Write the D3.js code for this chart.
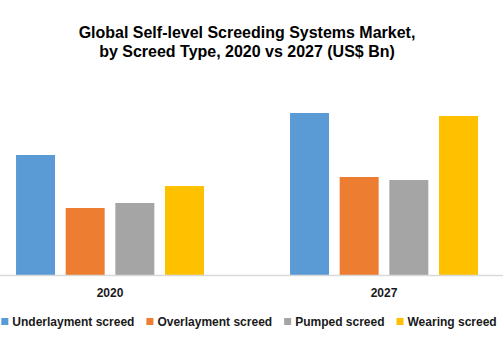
<!DOCTYPE html>
<html>
<head>
<meta charset="utf-8">
<script src="https://cdn.jsdelivr.net/npm/d3@7"></script>
<style>
  html, body { margin: 0; padding: 0; background: #fff; }
  svg { display: block; font-family: "Liberation Sans", Arial, sans-serif; }
</style>
</head>
<body>
<svg id="chart" width="503" height="344"></svg>
<script>
const years = ["2020", "2027"];
const series = ["Underlayment screed", "Overlayment screed", "Pumped screed", "Wearing screed"];
const colors = ["#5B9BD5", "#ED7D31", "#A5A5A5", "#FFC000"];
const underlayment = [1.20, 1.62];
const overlayment = [0.67, 0.98];
const pumped = [0.72, 0.95];
const wearing = [0.89, 1.59];
const titleLines = ["Global Self-level Screeding Systems Market,", "by Screed Type, 2020 vs 2027 (US$ Bn)"];

const valuesBySeries = [underlayment, overlayment, pumped, wearing];

const W = 503, H = 344;
const svg = d3.select("#chart");

// Title
const title = svg.append("g").selectAll("text").data(titleLines).join("text")
  .attr("x", 247)
  .attr("y", (d, i) => 38 + i * 19)
  .attr("text-anchor", "middle")
  .attr("font-size", 16)
  .attr("font-weight", "bold")
  .attr("fill", "#000")
  .text(d => d);
// fit first line to reference width (~337px)
const tw = title.nodes()[0].getComputedTextLength();
title.attr("font-size", 16 * 337 / tw);

// Scales
const x0 = d3.scaleBand().domain(years).range([-27, 521]).paddingInner(0.314).paddingOuter(0.157);
const x1 = d3.scaleBand().domain(series).range([0, x0.bandwidth()]).paddingInner(0.215).paddingOuter(0);
const y = d3.scaleLinear().domain([0, 2]).range([275, 75]);

// Bars
const groups = svg.append("g").selectAll("g").data(years).join("g")
  .attr("transform", d => `translate(${x0(d)},0)`);
groups.selectAll("rect")
  .data((yr, yi) => series.map((s, si) => ({ s, si, v: valuesBySeries[si][yi] })))
  .join("rect")
  .attr("x", d => x1(d.s))
  .attr("width", x1.bandwidth())
  .attr("y", d => y(d.v))
  .attr("height", d => y(0) - y(d.v))
  .attr("fill", d => colors[d.si]);

// Axis line
svg.append("line")
  .attr("x1", 0).attr("x2", W)
  .attr("y1", y(0) + 0.5).attr("y2", y(0) + 0.5)
  .attr("stroke", "#D9D9D9").attr("stroke-width", 1.5);

// Category labels
svg.append("g").selectAll("text").data(years).join("text")
  .attr("x", d => x0(d) + x0.bandwidth() / 2)
  .attr("y", 297)
  .attr("text-anchor", "middle")
  .attr("font-size", 12)
  .attr("font-weight", "bold")
  .attr("fill", "#1a1a1a")
  .text(d => d);

// Legend
const legend = svg.append("g");
const items = legend.selectAll("g").data(series).join("g");
items.append("rect").attr("width", 7).attr("height", 7).attr("y", 318)
  .attr("fill", (d, i) => colors[i]);
items.append("text").attr("x", 11).attr("y", 326)
  .attr("font-size", 12).attr("font-weight", "bold").attr("fill", "#1a1a1a")
  .text(d => d);
let cx = 0;
const gap = 12;
const widths = [];
items.each(function () {
  widths.push(11 + d3.select(this).select("text").node().getComputedTextLength());
});
const total = d3.sum(widths) + gap * (widths.length - 1);
cx = (W - 5) / 2 - total / 2;
items.each(function (d, i) {
  d3.select(this).attr("transform", `translate(${cx},0)`);
  cx += widths[i] + gap;
});
</script>
</body>
</html>
